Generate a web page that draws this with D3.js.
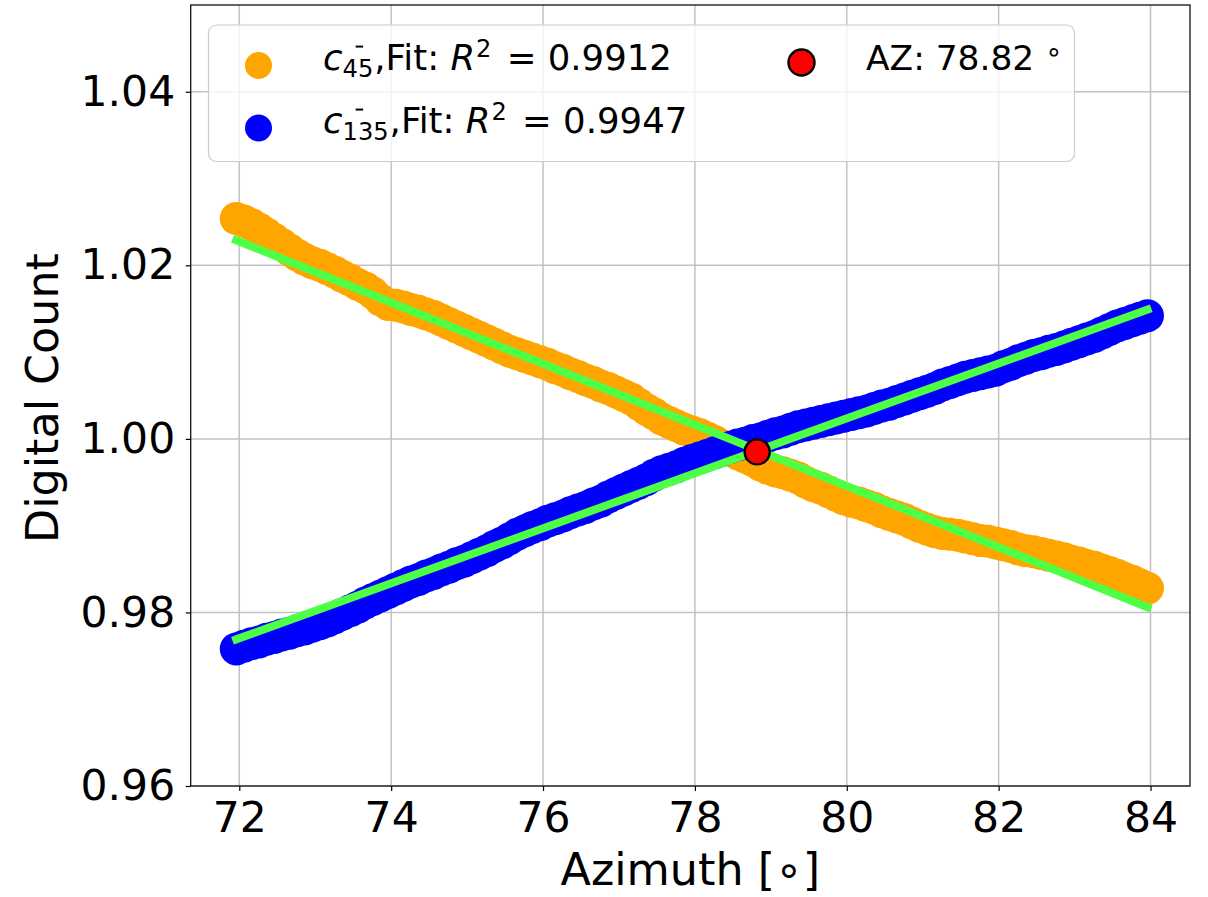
<!DOCTYPE html>
<html>
<head>
<meta charset="utf-8">
<script src="https://cdn.jsdelivr.net/npm/d3@7"></script>
<style>
  html, body { margin: 0; padding: 0; background: #fff; }
  svg { display: block; font-family: "DejaVu Sans", sans-serif; }
  svg text { white-space: pre; }
</style>
</head>
<body>
<svg id="chart" width="1208" height="897"></svg>
<script>
// Azimuth samples (degrees), shared by both channels
const azimuth = [
  71.96, 72.06, 72.16, 72.26, 72.36, 72.46, 72.56, 72.66, 72.76, 72.86,
  72.96, 73.06, 73.16, 73.26, 73.36, 73.46, 73.56, 73.66, 73.76, 73.86,
  73.96, 74.06, 74.16, 74.26, 74.36, 74.46, 74.56, 74.66, 74.76, 74.86,
  74.96, 75.06, 75.16, 75.26, 75.36, 75.46, 75.56, 75.66, 75.76, 75.86,
  75.96, 76.06, 76.16, 76.26, 76.36, 76.46, 76.56, 76.66, 76.76, 76.86,
  76.96, 77.06, 77.16, 77.26, 77.36, 77.46, 77.56, 77.66, 77.76, 77.86,
  77.96, 78.06, 78.16, 78.26, 78.36, 78.46, 78.56, 78.66, 78.76, 78.86,
  78.96, 79.06, 79.16, 79.26, 79.36, 79.46, 79.56, 79.66, 79.76, 79.86,
  79.96, 80.06, 80.16, 80.26, 80.36, 80.46, 80.56, 80.66, 80.76, 80.86,
  80.96, 81.06, 81.16, 81.26, 81.36, 81.46, 81.56, 81.66, 81.76, 81.86,
  81.96, 82.06, 82.16, 82.26, 82.36, 82.46, 82.56, 82.66, 82.76, 82.86,
  82.96, 83.06, 83.16, 83.26, 83.36, 83.46, 83.56, 83.66, 83.76, 83.86,
  83.96
];

// Normalised digital count, 45° channel
const count45 = [
  1.0254, 1.0251, 1.0247, 1.0242, 1.0236, 1.0230, 1.0224, 1.0218, 1.0212, 1.0207,
  1.0203, 1.0200, 1.0196, 1.0192, 1.0187, 1.0183, 1.0178, 1.0174, 1.0168, 1.0160,
  1.0155, 1.0154, 1.0152, 1.0149, 1.0147, 1.0144, 1.0141, 1.0137, 1.0133, 1.0129,
  1.0125, 1.0121, 1.0117, 1.0113, 1.0109, 1.0105, 1.0101, 1.0098, 1.0095, 1.0092,
  1.0089, 1.0086, 1.0082, 1.0079, 1.0075, 1.0072, 1.0068, 1.0065, 1.0061, 1.0058,
  1.0054, 1.0050, 1.0046, 1.0040, 1.0034, 1.0029, 1.0023, 1.0019, 1.0015, 1.0011,
  1.0008, 1.0005, 1.0001, 0.9997, 0.9992, 0.9988, 0.9983, 0.9979, 0.9975, 0.9970,
  0.9966, 0.9963, 0.9961, 0.9958, 0.9955, 0.9950, 0.9946, 0.9943, 0.9939, 0.9935,
  0.9931, 0.9928, 0.9926, 0.9923, 0.9920, 0.9916, 0.9913, 0.9910, 0.9907, 0.9903,
  0.9899, 0.9896, 0.9893, 0.9891, 0.9890, 0.9889, 0.9887, 0.9885, 0.9883, 0.9882,
  0.9880, 0.9878, 0.9876, 0.9873, 0.9871, 0.9870, 0.9868, 0.9866, 0.9864, 0.9862,
  0.9859, 0.9857, 0.9854, 0.9852, 0.9849, 0.9846, 0.9843, 0.9839, 0.9836, 0.9832,
  0.9828
];

// Normalised digital count, 135° channel
const count135 = [
  0.9758, 0.9761, 0.9764, 0.9766, 0.9769, 0.9771, 0.9774, 0.9776, 0.9779, 0.9781,
  0.9784, 0.9787, 0.9790, 0.9794, 0.9798, 0.9802, 0.9806, 0.9811, 0.9815, 0.9819,
  0.9823, 0.9827, 0.9831, 0.9835, 0.9838, 0.9842, 0.9845, 0.9849, 0.9852, 0.9856,
  0.9859, 0.9863, 0.9867, 0.9871, 0.9876, 0.9880, 0.9885, 0.9890, 0.9894, 0.9898,
  0.9901, 0.9905, 0.9908, 0.9911, 0.9915, 0.9918, 0.9921, 0.9925, 0.9928, 0.9933,
  0.9937, 0.9941, 0.9945, 0.9949, 0.9953, 0.9958, 0.9962, 0.9965, 0.9968, 0.9972,
  0.9975, 0.9978, 0.9981, 0.9984, 0.9987, 0.9990, 0.9993, 0.9995, 0.9998, 1.0000,
  1.0003, 1.0006, 1.0008, 1.0011, 1.0014, 1.0016, 1.0018, 1.0020, 1.0022, 1.0024,
  1.0026, 1.0028, 1.0030, 1.0032, 1.0035, 1.0038, 1.0040, 1.0043, 1.0046, 1.0049,
  1.0052, 1.0055, 1.0058, 1.0062, 1.0065, 1.0068, 1.0071, 1.0073, 1.0075, 1.0077,
  1.0079, 1.0083, 1.0086, 1.0090, 1.0093, 1.0096, 1.0098, 1.0101, 1.0103, 1.0106,
  1.0109, 1.0112, 1.0115, 1.0118, 1.0122, 1.0126, 1.0130, 1.0133, 1.0136, 1.0139,
  1.0142
];

// Linear fit end points
const fitAzimuth = [71.96, 83.96];
const fit45 = [1.0229, 0.9806];
const fit135 = [0.9769, 1.0149];

// Crossing point of the two fits
const crossAz = 78.82;
const crossCount = 0.9985;

// Axis ticks
const xTicks = [72, 74, 76, 78, 80, 82, 84];
const yTicks = [0.96, 0.98, 1.00, 1.02, 1.04];

// Legend entries
const r2Values = ["0.9912", "0.9947"];

const svg = d3.select("#chart");
const plotLeft = 190.7, plotRight = 1190, plotTop = 5, plotBottom = 786;

const x = d3.scaleLinear().domain([71.36, 84.52]).range([plotLeft, plotRight]);
const y = d3.scaleLinear().domain([0.96, 1.05]).range([plotBottom, plotTop]);

const ORANGE = "#ffa500", BLUE = "#0000ff", GREEN = "#4dff45", RED = "#ff0000";
const tickFont = 42.5;
const labelFont = 44.4;

// grid
const grid = svg.append("g");
grid.selectAll("line.gx").data(xTicks).join("line")
  .attr("x1", d => x(d)).attr("x2", d => x(d))
  .attr("y1", plotTop).attr("y2", plotBottom)
  .attr("stroke", "#c2c2c2").attr("stroke-width", 1.5);
grid.selectAll("line.gy").data(yTicks).join("line")
  .attr("x1", plotLeft).attr("x2", plotRight)
  .attr("y1", d => y(d)).attr("y2", d => y(d))
  .attr("stroke", "#c2c2c2").attr("stroke-width", 1.5);

// scatter series
const plot = svg.append("g");
plot.append("g").selectAll("circle").data(azimuth).join("circle")
  .attr("cx", d => x(d)).attr("cy", (d, i) => y(count45[i]))
  .attr("r", 16.5).attr("fill", ORANGE);
plot.append("g").selectAll("circle").data(azimuth).join("circle")
  .attr("cx", d => x(d)).attr("cy", (d, i) => y(count135[i]))
  .attr("r", 16.5).attr("fill", BLUE);

// fitted lines
const line = d3.line().x(d => x(d[0])).y(d => y(d[1]));
[fit45, fit135].forEach(f => {
  plot.append("path")
    .attr("d", line(fitAzimuth.map((a, i) => [a, f[i]])))
    .attr("fill", "none").attr("stroke", GREEN)
    .attr("stroke-width", 8).attr("stroke-linecap", "square");
});

// crossing marker
plot.append("circle")
  .attr("cx", x(crossAz)).attr("cy", y(crossCount))
  .attr("r", 12.5).attr("fill", RED)
  .attr("stroke", "#000").attr("stroke-width", 2.4);

// axes
const xAxis = svg.append("g").attr("transform", `translate(0,${plotBottom})`)
  .call(d3.axisBottom(x).tickValues(xTicks).tickSize(5).tickPadding(11)
    .tickFormat(d3.format("d")));
const yAxis = svg.append("g").attr("transform", `translate(${plotLeft},0)`)
  .call(d3.axisLeft(y).tickValues(yTicks).tickSize(5).tickPadding(10.5)
    .tickFormat(d3.format(".2f")));
[xAxis, yAxis].forEach(g => {
  g.select(".domain").remove();
  g.selectAll(".tick line").attr("stroke", "#000").attr("stroke-width", 1.2);
  g.selectAll(".tick text").attr("font-size", tickFont)
    .attr("font-family", "DejaVu Sans").attr("fill", "#000");
});

// frame
svg.append("rect")
  .attr("x", plotLeft).attr("y", plotTop)
  .attr("width", plotRight - plotLeft).attr("height", plotBottom - plotTop)
  .attr("fill", "none").attr("stroke", "#111").attr("stroke-width", 1.3);

// axis titles
svg.append("text")
  .attr("x", (plotLeft + plotRight) / 2).attr("y", 885)
  .attr("text-anchor", "middle").attr("font-size", labelFont)
  .text("Azimuth [\u2218]");
svg.append("text")
  .attr("transform", `translate(58,398) rotate(-90)`)
  .attr("text-anchor", "middle").attr("font-size", labelFont)
  .text("Digital Count");

// legend
const lg = svg.append("g");
lg.append("rect")
  .attr("x", 208.5).attr("y", 25).attr("width", 866).attr("height", 136.5)
  .attr("rx", 8).attr("fill", "#fff").attr("fill-opacity", 0.8)
  .attr("stroke", "#cccccc").attr("stroke-width", 1.2);

const legFont = 35.5;
function richText(g, x0, y0, runs, size) {
  let cx = x0;
  runs.forEach(r => {
    const small = r.sub || r.sup;
    const fs = (small ? size * 0.68 : size) * (r.scale || 1);
    const dy = r.sub ? size * 0.2 : (r.sup ? -size * 0.38 : 0) + (r.raise || 0);
    const t = g.append("text")
      .attr("x", cx).attr("y", y0 + dy)
      .attr("font-size", fs)
      .attr("font-style", r.it ? "italic" : "normal")
      .text(r.t);
    const w = t.node().getComputedTextLength();
    if (r.bar) {
      g.append("line")
        .attr("x1", cx + w + size * 0.37).attr("x2", cx + w + size * 0.58)
        .attr("y1", y0 - size * 0.66).attr("y2", y0 - size * 0.66)
        .attr("stroke", "#000").attr("stroke-width", 2);
    }
    cx += w + (r.after || 0);
  });
}

const legendRows = [
  { color: ORANGE, sub: "45", y: 70, my: 65.5 },
  { color: BLUE, sub: "135", y: 133, my: 128 }
];
legendRows.forEach((row, i) => {
  lg.append("circle").attr("cx", 258.5).attr("cy", row.my).attr("r", 13.5).attr("fill", row.color);
  richText(lg, 323, row.y, [
    { t: "c", it: true, bar: true },
    { t: row.sub, sub: true, after: 1 },
    { t: ",Fit: " },
    { t: "R", it: true, after: 1 },
    { t: "2", sup: true, after: 4 },
    { t: " = " + r2Values[i] }
  ], legFont);
});
lg.append("circle").attr("cx", 801.5).attr("cy", 62.5).attr("r", 13)
  .attr("fill", RED).attr("stroke", "#000").attr("stroke-width", 2.4);
richText(lg, 866, 70, [
  { t: "AZ: " + crossAz.toFixed(2) + " " },
  { t: "\u2218", raise: -9, scale: 0.8 }
], legFont * 0.97);
</script>
</body>
</html>
